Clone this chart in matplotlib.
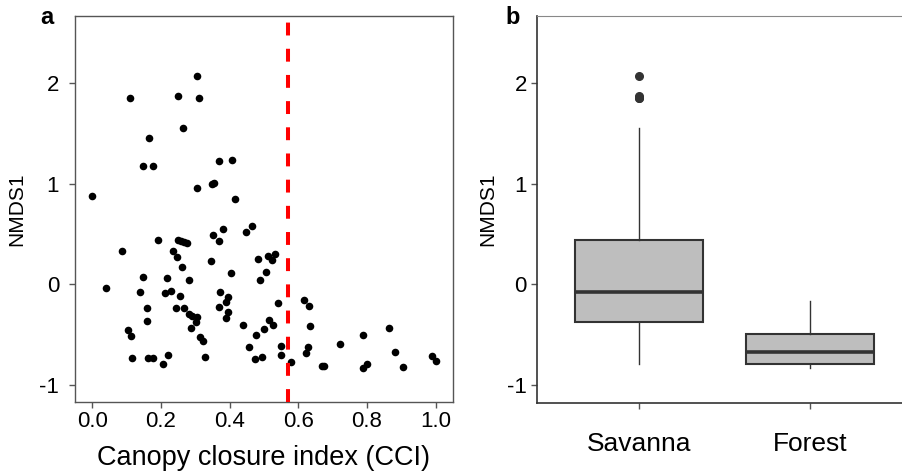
import numpy as np
import matplotlib
matplotlib.use("Agg")
import matplotlib.pyplot as plt

plt.rcParams["font.family"] = ["Liberation Sans", "DejaVu Sans"]

# canopy closure index and first NMDS axis score per plot
cci = [
    0.000, 0.040, 0.088, 0.105, 0.109, 0.113, 0.116, 0.140, 0.149, 0.149,
    0.159, 0.159, 0.164, 0.166, 0.177, 0.178, 0.192, 0.206, 0.213, 0.219,
    0.221, 0.230, 0.235, 0.244, 0.248, 0.249, 0.250, 0.256, 0.258, 0.262,
    0.265, 0.266, 0.267, 0.277, 0.281, 0.281, 0.288, 0.291, 0.301, 0.304,
    0.305, 0.305, 0.3125, 0.3145, 0.322, 0.328, 0.3465, 0.3485, 0.352, 0.356,
    0.368, 0.368, 0.369, 0.371, 0.382, 0.389, 0.390, 0.395, 0.395, 0.405,
    0.408, 0.415, 0.4385, 0.448, 0.458, 0.466, 0.474, 0.477, 0.484, 0.489,
    0.494, 0.500, 0.505, 0.513, 0.515, 0.525, 0.526, 0.533, 0.542, 0.549,
    0.549,
    0.578, 0.617, 0.622, 0.629, 0.631, 0.633, 0.668, 0.675, 0.722, 0.788,
    0.789, 0.800, 0.864, 0.882, 0.906, 0.991, 1.001,
]
nmds1 = [
    0.877, -0.034, 0.334, -0.450, 1.850, -0.516, -0.729, -0.076, 1.178, 0.069,
    -0.235, -0.368, -0.729, 1.456, -0.729, 1.181, 0.437, -0.795, -0.086, 0.063,
    -0.702, -0.067, 0.334, -0.232, 0.268, 0.440, 1.873, -0.119, 0.427, 0.169,
    1.555, 0.420, -0.232, 0.407, 0.046, -0.295, -0.437, -0.312, -0.371, -0.328,
    2.075, 0.959, 1.850, -0.526, -0.563, -0.725, 0.228, 0.996, 0.487, 1.009,
    0.427, -0.222, 1.227, -0.073, 0.549, -0.176, -0.332, -0.126, -0.275, 0.115,
    1.237, 0.844, -0.404, 0.516, -0.626, 0.576, -0.745, -0.500, 0.254, 0.040,
    -0.725, -0.440, 0.122, 0.281, -0.358, 0.238, -0.401, 0.301, -0.183, -0.610,
    -0.702,
    -0.768, -0.156, -0.679, -0.623, -0.212, -0.414, -0.811, -0.808, -0.590, -0.500,
    -0.834, -0.791, -0.431, -0.675, -0.821, -0.715, -0.762,
]
CCI_THRESHOLD = 0.571

# box summaries per habitat (Savanna, Forest)
habitats = ["Savanna", "Forest"]
box_whislo = [-0.791, -0.828]
box_q1 = [-0.374, -0.791]
box_med = [-0.073, -0.675]
box_q3 = [0.440, -0.497]
box_whishi = [1.549, -0.166]
box_fliers = [[2.075, 1.873, 1.850, 1.850], []]

DARK = "#333333"
SPINE = "#555555"

fig = plt.figure(figsize=(9.03, 4.73), dpi=100)
ax_a = fig.add_axes([75 / 903, 71.3 / 473, 377.7 / 903, 385.7 / 473])
ax_b = fig.add_axes([536.7 / 903, 70.3 / 473, 375.5 / 903, 386.7 / 473])

# panel a: scatter of NMDS1 against CCI
ax_a.scatter(cci, nmds1, s=30, color="black", linewidths=0, zorder=3)
ax_a.axvline(CCI_THRESHOLD, color="red", linewidth=2.9,
             linestyle=(0, (3.2, 3.3)), zorder=4)
ax_a.set_xlim(-0.05, 1.05)
ax_a.set_ylim(-1.166, 2.667)
ax_a.set_xticks([0.0, 0.2, 0.4, 0.6, 0.8, 1.0])
ax_a.set_xticklabels(["0.0", "0.2", "0.4", "0.6", "0.8", "1.0"])
ax_a.set_yticks([-1, 0, 1, 2])
ax_a.set_yticklabels(["-1", "0", "1", "2"])
ax_a.set_xlabel("Canopy closure index (CCI)", fontsize=19.5, labelpad=9)
for side in ["left", "bottom", "top", "right"]:
    ax_a.spines[side].set_color(SPINE)
    ax_a.spines[side].set_linewidth(1.0)

# panel b: boxplot by habitat
stats = []
for i, name in enumerate(habitats):
    stats.append(dict(
        label=name,
        whislo=box_whislo[i], q1=box_q1[i], med=box_med[i],
        q3=box_q3[i], whishi=box_whishi[i], fliers=box_fliers[i],
    ))
ax_b.bxp(
    stats,
    positions=[1, 2],
    widths=0.75,
    patch_artist=True,
    boxprops=dict(facecolor="#bebebe", edgecolor=DARK, linewidth=1.5),
    medianprops=dict(color=DARK, linewidth=2.6),
    whiskerprops=dict(color=DARK, linewidth=1.0),
    capprops=dict(linewidth=0),
    flierprops=dict(marker="o", markerfacecolor=DARK, markeredgecolor=DARK,
                    markersize=5.5),
)
ax_b.set_xlim(0.4, 2.6)
ax_b.set_ylim(-1.176, 2.667)
ax_b.set_xticks([1, 2])
ax_b.set_xticklabels(habitats)
ax_b.set_yticks([-1, 0, 1, 2])
ax_b.set_yticklabels(["-1", "0", "1", "2"])
ax_b.spines["right"].set_visible(False)
ax_b.spines["top"].set_color("#888888")
ax_b.spines["top"].set_linewidth(0.8)
for side in ["left", "bottom"]:
    ax_b.spines[side].set_color(DARK)
    ax_b.spines[side].set_linewidth(1.2)

for ax in (ax_a, ax_b):
    ax.tick_params(axis="both", length=4, width=1, color=SPINE,
                   labelsize=16, pad=3, labelcolor="black")
ax_a.tick_params(axis="y", pad=7.5)
ax_b.tick_params(axis="x", labelsize=19, pad=17)

ax_a.set_ylabel("NMDS1", fontsize=15, labelpad=9)
ax_b.set_ylabel("NMDS1", fontsize=15, labelpad=7)

fig.text(40 / 903, 1 - 6 / 473, "a", fontsize=17, fontweight="bold",
         ha="left", va="top")
fig.text(505 / 903, 1 - 6 / 473, "b", fontsize=17, fontweight="bold",
         ha="left", va="top")

fig.savefig("out.png", dpi=100)
